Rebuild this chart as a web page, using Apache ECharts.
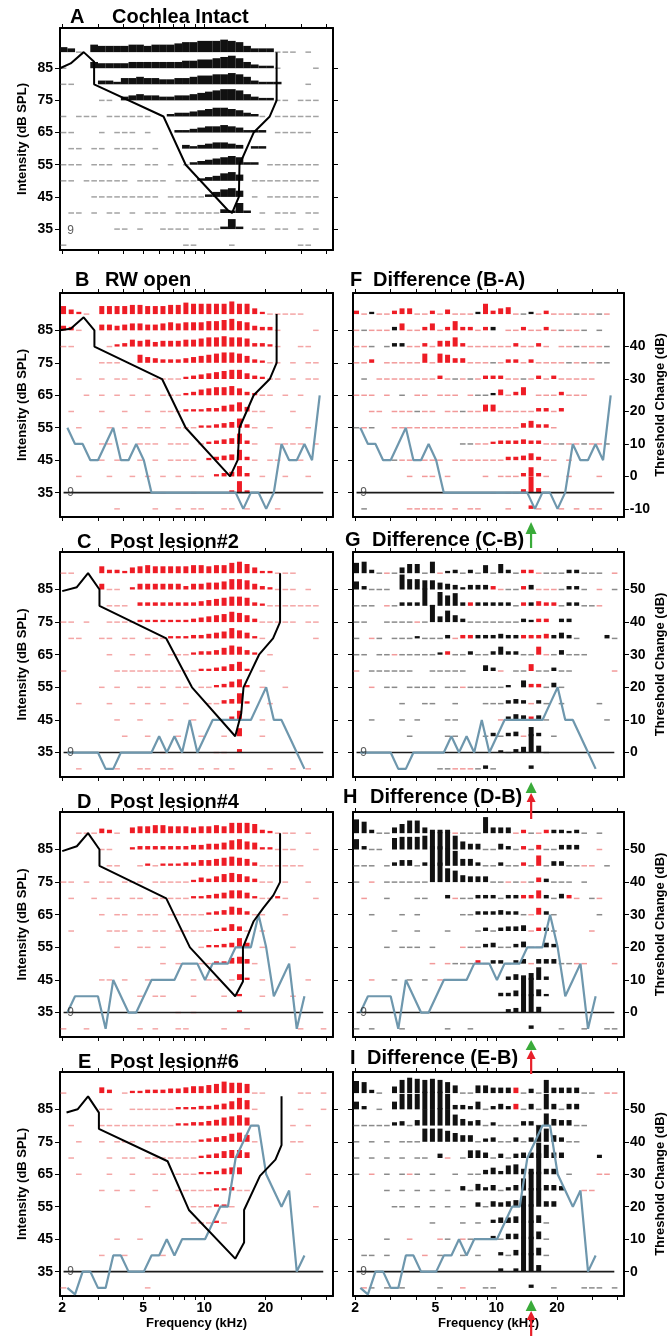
<!DOCTYPE html>
<html>
<head>
<meta charset="utf-8">
<title>Cochlea response areas</title>
<script src="https://cdn.jsdelivr.net/npm/echarts@6/dist/echarts.min.js"></script>
<style>
html,body{margin:0;padding:0;background:#ffffff;}
#chart{width:668px;height:1336px;}
</style>
</head>
<body>
<div id="chart"></div>
<script>
// ================= DATA =================
const levels = [90,85,80,75,70,65,60,55,50,45,40,35,30];
const freqBins = [2.03,2.214,2.414,2.633,2.871,3.131,3.414,3.723,4.06,4.428,4.828,5.266,5.742,6.262,6.829,7.447,8.12,8.855,9.657,10.53,11.48,12.52,13.66,14.9,16.24,17.71,19.31,21.06,22.97,25.05,27.31,29.79,32.48,35.42,38.63];
const lineFreq = [2.12,2.312,2.521,2.75,2.998,3.27,3.565,3.888,4.24,4.624,5.042,5.499,5.996,6.539,7.131,7.777,8.48,9.247,10.085,10.996,11.988,13.074,14.265,15.56,16.96,18.495,20.165,21.993,23.987,26.16,28.52,31.11,33.919,36.989,40.34];
const freqTicks = [2,3,4,5,6,7,8,9,10,20,30,40];
const freqLabels = [2,5,10,20];
const intensityTicks = [35,45,55,65,75,85];
const changeTicksF = [-10,0,10,20,30,40];
const changeTicks = [0,10,20,30,40,50];
const baseline35 = [[2.03,35],[38.5,35]];
const arrowFreq = 14.9;
const panelLetters = ['A','B','C','D','E','F','G','H','I'];
const panelTitles = ['Cochlea Intact','RW open','Post lesion#2','Post lesion#4','Post lesion#6','Difference (B-A)','Difference (C-B)','Difference (D-B)','Difference (E-B)'];

// Row codes per intensity level (90..30), one char per frequency bin.
// ' ' none, '-' dash, '_' red dash, '1'-'9','A'-'Z' black bar height, 'a'-'z' red bar height
const rowsA = [
"43- 6|55556|65666|78899|9A985|333--|- -  ",
"-   5|44445|55555|56677|89A85|322- |   - ",
"--   |33255|65544|55677|88986|3222 |  -  ",
"     |-- 34|54433|44567|89985|322--| --- ",
"- ---| ----|--  2|33456|77653|2- --|---- ",
"--   |- ---| -   |22345|56542|22 --|---  ",
" -- -|- ---|- -  | 3234|5543 |22   |     ",
"--- -|-- --| -- -| -234|56762|2 ---|---- ",
"-- --|---- |---- |---23|4675 |-----|---- ",
"    -|-----|--- -|----2|4675 |- ---|---- ",
" -- -| -- -| --- |-----|-3282| - --|- -- ",
"     |  -- |-  --|-- --|-282 |-- --| - - ",
"-    |     |     | --  |  -  |     | --  "];
const rowsB = [
"gdb- |ggggh|hgggh|hjiii|iikii|eb---|--   ",
"dc-  |eedef|feefg|fgggh|hijhg|dcc- |   - ",
"--   | -bcf|efdee|effgh|hihhg|ccb- | --  ",
"     |---  |gedcc|cdefg|hiihf|cb-- |- -- ",
"  -  |- -- |- ---|-bcde|fghhe|cb-- |- -- ",
"   - |- - -| - --|-bcef|gghfc|b-- -| -   ",
" -   |-  - | - --|-bbbc|cefhd|--   |-    ",
"  -  | - - |-- - |---bb|cdehc|- -  |  -  ",
"     |-- - |--- -|-- -b|cdeic|-  --|-- - ",
"     |- -- |- - -|--- b|cdeic|- -- |--   ",
"  -  | -  -| - - |- -- |bcdic| -  -|  -  ",
"     |     |   - |  -  |  bjb|     |     ",
"     |  -  |  -  |- -- | -- -|   - |     "];
const rowsC = [
"--   |fccbe|fgfff|ffggf|ggijh|ebb--|-    ",
"     |e-- b|eeeee|eceef|fgiih|ecb--|- -  ",
"     | --- |ccccc|cccde|fghhg|cb---|---- ",
"-- - | ----|bbbbb|bbcde|fgihf|c----|- -- ",
" --  |-- --| ---b|bbccd|efige|b-   |   - ",
"     | -  -| -  -|--bcc|dfhgd|b -  |     ",
"-    |  ---|-----|---bb|cdfhb| -   |     ",
"     |- -  |-- - |-- --|bcegb| -  -|     ",
"  -  | -  -| - - | -  -|-cdib|  -  |     ",
"     |  -  |-   -|  -  |--ch-| -   |     ",
"     |   - | -   |-  - | - g | -   |     ",
"     |     |   - |     |-- c |     |     ",
"  -  |  -  |-- --|   - |- -  |  -  |- -  "];
const rowsD = [
"  ---|dc- e|ffggf|ffeff|gfiii|hcb--|- -  ",
"     |--  b|ccccc|ccdde|efhig|fbb--|-  - ",
"     | --  |-b-bb|bccee|fghgf|c----|--   ",
"-- - |-- --|- ---|--bdc|eghge|c-- -|  -  ",
" -  -| -- -|- ---|--bbc|degge|b--b-|   - ",
"     |- -- |--- -|----b|cdgfc|--  -|     ",
" -   | --- |- -- |-----|bcfd-| -   |     ",
"     |  -  |-- - |   -b|bcdhd| -   |-    ",
"     |     |   - |-  --|bbefd|-    |     ",
"     |-- - | -   |  - -|- -eb| -   |  -  ",
"     |     |- -- |  -  | - b | -   |-    ",
"     |     |     |- -  |   b |     |     ",
"-  - |     |- -  |--   | -  -|     | -  -"];
const rowsE = [
"-    |ec -b|bcccd|deffg|hjiih|--   | -- -",
"     |--  -|-----|bbbcc|degjh|-    | -  -",
" -   |-----|-----|bbccd|eghig|-    |- -  ",
"  -  |- ---| ----|---bc|deghf|-    |--   ",
" -   | - --| ----|---bc|dfgge|     |     ",
"  -  | -  -|  -- |---bb|ceff |     |  -  ",
"     |- - -|  -  |-----|bbc--|     |     ",
"     |     | -   |  ---|bb-  |     |   - ",
"     |     |     |  ---|b-   |     |     ",
"     |  -  |-    |     |     |     |     ",
"     |-  - |   - |     |     |     |     ",
"     |     |     |     |     |     |     ",
"-    |     | -   |     |     |     |     "];
const rowsF = [
"c_2__|cee__|c_d__|_2ice|f_-2_|c___-|__-_ ",
"_-___|3f__c|f_chc|c_c3 |__c__|c_-__|- -  ",
"__- -|33__c|_eehc|_____|_c__c|_ __-|___- ",
"__c _|____h|_hgdd|___-_|cc_c_|___-_|-_-- ",
" - __|_____|_c_-_|-_ccc|__-_c|_c___|__   ",
"___ _| - __| ___ |_--2e|_cg _|__c__|_    ",
"  __ |___-_|_ __-|__ff_|____c|c_c  |     ",
"-_-  |_____|_____|_____|__dfc|c_   |     ",
"     |     |    -|-__bc|ccdcc|__-__|-__- ",
"     |-__ _|__ __|_____|ccdfc|__ _ |     ",
"     |  _ _|_ _  |  _ _|__chc|_  _ |  _  ",
"     |     |     |   _ |__cnd|     |     ",
" -   |  ___|__ _ |__   |_  c_|  _ _| __  "];
const rowsG = [
"9A3-_|-588-|A_23-|3-7-8|3-cc_|---33|--- _",
"73---| D998|86542|444c_|--c4_|__-33|- _ -",
"--- _|-333F|-C9B3|c3333|3-c3d|cc-33|--_  ",
"--  -|---_-|F5A63|-----|--32c|c 33 |     ",
"- _- |---2-|--3_c|c3334|33ccc|d353-|   3-",
"-- --|_----|-2c--|3--37|33--g|_-4--|-    ",
"_ ---|---  |-----|  53_| --f-|-3-- |    _",
"  _ -|- ---|- --_|-----|2 6cc|-4-  |     ",
"     | -  -|-  - |  ---|343_3|- -  |  -  ",
"  -  | - - |  -- |    _|354c4|-    |   - ",
"     |  -  |  -- |  -3-|34_83| -   |     ",
"     |     |     |    2|-35G6|-    |     ",
"     |     | --__|_-3- |   3 |     |     "];
const rowsH = [
"CA3--|58BB5|333_-|--E55|5_c-_|c3323|- -  ",
"93-- |ABBBC|FFFC7|55--5|3-c-d|--444|  _  ",
"--- -|355-3|HHFD6|63--3|--c-i|-44--|__ - ",
"- _ -|-----|FHCA6|555--|_-_-d|3--- |-    ",
" _  -|   --|  3_-|-333-|33ccg|3-4c_| -_  ",
"  -  | - - |    -|-3334|33-_f|3-   |  -  ",
"     |-  - |  -  | -3-3|445_c|3-   | _   ",
"    -| --- |-   _|--34-|-35__|43   |     ",
"     |     |_ _--|-c_33|-34_4|44--_|_   _",
"  _  |- - -| _   |     |3546B|3    |     ",
"     |     |     |    3|35GG6|2    |     ",
"     |     |     |     |34GG5|     |     ",
"- -  | -   |  -  |-    |   3 |  -  |-  --"];
const rowsI = [
"BA3- |6CEDC|DCA7-|-7755|5e-4-|C5555|-- __",
"73 - |7EEEG|GGE44|37-35|3e-5-|E5-55|     ",
"-----|34-5F|FGFA6|45-3-|--44-|B655-|-    ",
"- - -| ---C|CCA86|6-34-|-4-4F|C64--|     ",
"- - -| - --| 4_ -|775-4|-455E|C55  |  3  ",
"- _ -| -_- |-  - |--463|8955J|55 - |  __ ",
"    -| - - |- - 4|-635-|35BHH|554  |__   ",
"     |-- - |- - -| 4-54|56AHH|55   |     ",
"     |     |-   -| - 35|56HH7|-    |     ",
"    -|  _  | _- _|---3-|55HH7|-    |     ",
" -- -|    _| -  -| -  3|-5HH7|-    |     ",
"     |     |     |    3| 3HH6|     |     ",
" _- -| -   | -  _|  -- |   3 | -   |--- -"];

// threshold change (dB) per lineFreq bin
const threshB = [15,10,10,5,5,10,15,5,5,10,5,-5,-5,-5,-5,-5,-5,-5,-5,-5,-5,-5,-5,-10,-5,-5,-10,-5,10,5,5,10,5,25];
const threshC = [0,0,0,0,0,-5,-5,0,0,0,0,0,5,0,5,0,10,0,5,10,10,10,10,10,10,15,20,10,10,5,0,-5];
const threshD = [0,5,5,5,5,-5,10,5,0,0,5,10,10,10,10,15,15,15,10,15,15,15,20,20,20,30,20,5,10,15,-5,5];
const threshE = [-5,-7,0,0,-5,-5,5,5,0,0,0,5,5,10,5,10,10,10,10,15,20,20,35,40,45,45,30,25,20,25,0,5];

// tuning-curve boundaries [kHz, dB SPL]
const curveA = [[1.95,85],[2.2,86.5],[2.55,90],[2.87,87],[2.87,80],[6.3,70],[8.1,55],[13,41],[13.7,40],[14.8,45],[14.9,55],[17.5,65],[21,70],[22.7,75],[22.7,90]];
const curveB = [[1.95,85],[2.2,85.5],[2.55,89],[2.88,85],[2.88,80],[6.2,70],[8.1,55],[13.4,40],[14.6,45],[14.9,55],[17.5,65],[21,70],[22.7,75],[22.7,90]];
const curveC = [[2.0,84.5],[2.36,85.7],[2.68,90],[3.05,85],[3.05,80],[6.5,70],[8.7,55],[14.2,40],[15.2,47],[15.6,55],[18.6,65],[21.8,70],[23.6,75],[23.6,90]];
const curveD = [[2.0,84.5],[2.36,86],[2.68,90],[3.05,85],[3.05,80],[6.5,70],[8.5,55],[14.2,40],[15.5,44.5],[15.5,55],[17.5,63],[19.5,67],[21.9,71],[23.6,75],[23.6,90]];
const curveE = [[2.1,84],[2.38,85],[2.68,89],[3.03,84],[3.03,79],[6.6,69],[8.4,54],[14.2,39],[15.7,44],[15.7,54],[18.8,64.5],[22.4,69.5],[24,74],[24,89]];

// ================= LAYOUT / STYLE =================
const FONT = '"Liberation Sans", Arial, sans-serif';
const panels = [
  {rows:rowsA, curve:curveA, col:0, top:28,   h:222, ymin:28.5, ymax:97.5, ty:17,   lx:70,  tx:112, barW:7.7, unit:1.25, dash:'#a3a3a3', nine:34.4},
  {rows:rowsB, curve:curveB, blue:threshB, off:40, col:0, top:293,  h:224, ymin:27.5, ymax:96.5, ty:280,  lx:75,  tx:105, barW:5, unit:1.15, dash:'#f4a6a6'},
  {rows:rowsC, curve:curveC, blue:threshC, off:35, col:0, top:552,  h:225, ymin:27.5, ymax:96.5, ty:542,  lx:77,  tx:110, barW:5, unit:1.15, dash:'#f4a6a6'},
  {rows:rowsD, curve:curveD, blue:threshD, off:35, col:0, top:812,  h:225, ymin:27.5, ymax:96.5, ty:802,  lx:77,  tx:110, barW:5, unit:1.15, dash:'#f4a6a6'},
  {rows:rowsE, curve:curveE, blue:threshE, off:35, col:0, top:1072, h:224, ymin:27.5, ymax:96.5, ty:1062, lx:78,  tx:110, barW:5, unit:1.15, dash:'#f4a6a6', bottom:true},
  {rows:rowsF, blue:threshB, off:40, ch:changeTicksF, col:1, top:293,  h:224, ymin:27.5, ymax:96.5, ty:280,  lx:350, tx:373, barW:5, unit:1.15, dash:'#8a8a8a'},
  {rows:rowsG, blue:threshC, off:35, ch:changeTicks,  col:1, top:552,  h:225, ymin:27.5, ymax:96.5, ty:540,  lx:345, tx:372, barW:5, unit:1.15, dash:'#8a8a8a'},
  {rows:rowsH, blue:threshD, off:35, ch:changeTicks,  col:1, top:812,  h:225, ymin:27.5, ymax:96.5, ty:797,  lx:343, tx:370, barW:5, unit:1.15, dash:'#8a8a8a'},
  {rows:rowsI, blue:threshE, off:35, ch:changeTicks,  col:1, top:1072, h:224, ymin:27.5, ymax:96.5, ty:1058, lx:350, tx:367, barW:5, unit:1.1, dash:'#8a8a8a', bottom:true}
];

function parseRows(rows) {
  const out = [];
  rows.forEach((raw, r) => {
    const s = raw.replace(/\|/g, '');
    for (let k = 0; k < s.length && k < freqBins.length; k++) {
      const c = s[k];
      if (c === ' ') continue;
      let type, h = 0;
      if (c === '-') type = 2;
      else if (c === '_') type = 3;
      else if (c >= '1' && c <= '9') { type = 0; h = +c; }
      else if (c >= 'A' && c <= 'Z') { type = 0; h = c.charCodeAt(0) - 55; }
      else if (c >= 'a' && c <= 'z') { type = 1; h = c.charCodeAt(0) - 96; }
      else continue;
      out.push([freqBins[k], levels[r], h, type]);
    }
  });
  return out;
}

function makeRender(barW, unit, dashColor) {
  return function (params, api) {
    const p = api.coord([api.value(0), api.value(1)]);
    const h = api.value(2) * unit, t = api.value(3);
    if (t >= 2) {
      return {type:'rect', shape:{x:p[0]-2.8, y:p[1]-0.75, width:5.6, height:1.5},
              style:{fill: t === 2 ? dashColor : '#f29a9a'}};
    }
    return {type:'rect', shape:{x:p[0]-barW/2, y:p[1]-h, width:barW, height:h},
            style:{fill: t === 0 ? '#111111' : '#ee1c25'}};
  };
}

const grid = [], xAxis = [], yAxis = [], series = [], title = [];
const lblStyle = {color:'#000', fontSize:14, fontWeight:'bold', fontFamily:FONT};
const nameStyle = {color:'#000', fontSize:13, fontWeight:'bold', fontFamily:FONT};
const axisLine = {show:true, onZero:false, lineStyle:{color:'#000', width:2}};
const bottomXIndex = [];

panels.forEach((p, gi) => {
  const left = p.col === 0 ? 60 : 353;
  const width = p.col === 0 ? 273 : 272;
  grid.push({left:left, top:p.top, width:width, height:p.h, containLabel:false});

  const xi = xAxis.length;
  bottomXIndex.push(xi);
  xAxis.push({type:'log', logBase:10, gridIndex:gi, position:'bottom', min:1.95, max:43,
    axisLine:axisLine,
    axisTick:{show:true, customValues:freqTicks, length:4, inside:false, lineStyle:{color:'#000', width:1}},
    axisLabel:Object.assign({show:!!p.bottom, customValues:freqLabels, margin:5}, lblStyle),
    splitLine:{show:false}, minorTick:{show:false},
    name: p.bottom ? 'Frequency (kHz)' : '', nameLocation:'middle', nameGap:21, nameTextStyle:nameStyle});
  xAxis.push({type:'log', logBase:10, gridIndex:gi, position:'top', min:1.95, max:43,
    axisLine:axisLine,
    axisTick:{show:true, customValues:freqTicks, length:4, inside:false, lineStyle:{color:'#000', width:1}},
    axisLabel:{show:false}, splitLine:{show:false}});

  const yi = yAxis.length;
  yAxis.push({type:'value', gridIndex:gi, position:'left', min:p.ymin, max:p.ymax,
    axisLine:axisLine,
    axisTick:{show:true, customValues:intensityTicks, length:5, lineStyle:{color:'#000', width:1}},
    axisLabel:Object.assign({show:p.col === 0, customValues:intensityTicks, margin:7}, lblStyle),
    splitLine:{show:false},
    name: p.col === 0 ? 'Intensity (dB SPL)' : '', nameLocation:'middle', nameRotate:90, nameGap:31, nameTextStyle:nameStyle});
  let blueAxis = null;
  if (p.col === 0) {
    yAxis.push({type:'value', gridIndex:gi, position:'right', min:p.ymin, max:p.ymax,
      axisLine:axisLine,
      axisTick:{show:true, customValues:intensityTicks, length:5, lineStyle:{color:'#000', width:1}},
      axisLabel:{show:false}, splitLine:{show:false}});
    if (p.blue) {
      blueAxis = yAxis.length;
      yAxis.push({type:'value', gridIndex:gi, show:false, min:p.ymin - p.off, max:p.ymax - p.off, splitLine:{show:false}});
    }
  } else {
    blueAxis = yAxis.length;
    yAxis.push({type:'value', gridIndex:gi, position:'right', min:p.ymin - p.off, max:p.ymax - p.off,
      axisLine:axisLine,
      axisTick:{show:true, customValues:p.ch, length:5, lineStyle:{color:'#000', width:1}},
      axisLabel:Object.assign({show:true, customValues:p.ch, margin:6}, lblStyle),
      splitLine:{show:false},
      name:'Threshold Change (dB)', nameLocation:'middle', nameRotate:90, nameGap:30, nameTextStyle:nameStyle});
  }

  series.push({type:'custom', xAxisIndex:xi, yAxisIndex:yi, data:parseRows(p.rows),
    renderItem:makeRender(p.barW, p.unit, p.dash), clip:false, silent:true, encode:{x:0, y:1}, z:2});

  if (p.blue) {
    series.push({type:'line', xAxisIndex:xi, yAxisIndex:blueAxis,
      data:p.blue.map((v, k) => [lineFreq[k], v]), symbol:'none', silent:true,
      lineStyle:{color:'#6e97ad', width:2.2}, z:4});
    series.push({type:'line', xAxisIndex:xi, yAxisIndex:yi, data:baseline35, symbol:'none', silent:true,
      lineStyle:{color:'#1a1a1a', width:1.6}, z:3});
  }
  if (p.curve) {
    series.push({type:'line', xAxisIndex:xi, yAxisIndex:yi, data:p.curve, symbol:'none', silent:true,
      lineStyle:{color:'#000', width:2}, z:5});
  }
  series.push({type:'scatter', xAxisIndex:xi, yAxisIndex:yi, data:[[2.2, p.nine || 35]], symbolSize:1,
    itemStyle:{color:'rgba(0,0,0,0)'}, silent:true, z:6,
    label:{show:true, position:'inside', formatter:'9', color:'#333', fontSize:12, fontFamily:FONT}});

  const tStyle = {color:'#000', fontSize:20, fontWeight:'bold', fontFamily:FONT, lineHeight:22};
  title.push({text:panelLetters[gi], left:p.lx, top:p.ty - 11, padding:0, textStyle:tStyle});
  title.push({text:panelTitles[gi], left:p.tx, top:p.ty - 11, padding:0, textStyle:tStyle});
});

const chart = echarts.init(document.getElementById('chart'), null, {renderer:'canvas', width:668, height:1336});
chart.setOption({
  animation:false,
  backgroundColor:'#ffffff',
  textStyle:{fontFamily:FONT},
  title:title, grid:grid, xAxis:xAxis, yAxis:yAxis, series:series
});

// arrows marking the lesion frequency, positioned through the frequency axis
const green = '#3aab3a', red = '#e8202a';
function ax(panelIdx) { return chart.convertToPixel({xAxisIndex: bottomXIndex[panelIdx]}, arrowFreq); }
const gx1 = ax(5), gx2 = ax(6), gx3 = ax(7), gx4 = ax(8);
function tri(x, yTip, yBase, half, color) {
  return {type:'polygon', shape:{points:[[x, yTip],[x-half, yBase],[x+half, yBase]]}, style:{fill:color}, z:100};
}
function stem(x, y1, y2, color) {
  return {type:'rect', shape:{x:x-1.1, y:y1, width:2.2, height:y2-y1}, style:{fill:color}, z:100};
}
chart.setOption({graphic:[
  tri(gx1, 522, 534, 5.5, green), stem(gx1, 533, 548, green),
  tri(gx2, 782, 793, 5.5, green), tri(gx2, 793, 802, 4.5, red), stem(gx2, 801, 819, red),
  tri(gx3, 1040, 1050, 5.5, green), tri(gx3, 1050, 1059, 4.5, red), stem(gx3, 1058, 1074, red),
  tri(gx4, 1300, 1311, 5.5, green), tri(gx4, 1311, 1320, 4.5, red), stem(gx4, 1319, 1336, red)
]});
</script>
</body>
</html>
